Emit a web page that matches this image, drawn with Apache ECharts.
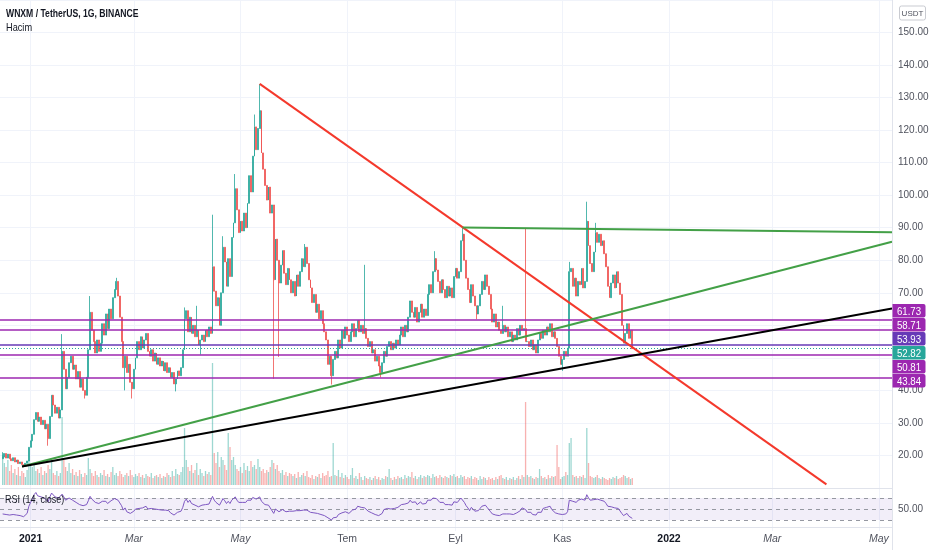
<!DOCTYPE html>
<html><head><meta charset="utf-8">
<script src="https://cdn.jsdelivr.net/npm/echarts@6/dist/echarts.min.js"></script>
<style>html,body{margin:0;padding:0;background:#fff}#c{width:932px;height:550px}</style>
</head><body><div id="c"></div>
<script>
// ---------- DATA ----------
// daily closes from 2020-12-16 (day -16 relative to 2021-01-01) to 2021-12-11
const firstOpen = 19.0;
const closes = [
 19.5,20.6,19.2,20.4,19.0,18.4,19.3,18.0,18.6,17.5,
 18.0,17.2,16.9,17.6,18.3,22.5,24.5,26.5,31.0,33.2,
 30.5,31.8,29.5,30.8,28.2,29.6,25.2,32.0,38.5,35.5,
 33.0,34.8,31.5,34.0,52.0,46.5,40.5,44.0,48.5,50.5,
 46.5,47.8,43.5,45.8,41.0,43.5,40.0,38.5,44.0,52.5,
 64.0,58.5,55.0,51.5,55.5,52.0,54.5,60.5,57.0,63.5,
 59.0,65.0,62.0,68.5,71.0,73.5,69.0,62.5,55.0,47.0,
 50.5,45.5,48.0,42.5,40.5,46.5,50.0,55.0,52.5,56.5,
 53.0,55.5,57.5,52.0,50.5,52.5,49.0,51.5,48.0,50.0,
 47.5,49.0,46.0,48.5,45.5,47.0,44.0,45.5,42.0,43.5,
 46.0,44.5,47.0,52.5,62.0,64.5,58.0,62.5,57.5,60.0,
 56.5,58.5,54.0,55.5,57.0,55.0,58.5,56.5,59.5,57.5,
 78.0,70.5,66.0,68.5,60.0,70.0,84.0,79.5,72.0,80.5,
 75.0,87.0,91.5,102.0,95.5,88.5,92.0,89.0,94.5,90.0,
 97.5,106.0,101.0,112.0,121.0,114.0,120.5,126.0,113.0,108.0,
 103.0,98.5,102.5,94.5,97.0,74.0,86.5,80.0,73.0,78.5,
 83.0,76.0,72.5,77.5,74.0,70.0,73.5,69.0,75.5,72.0,
 76.5,80.5,78.0,84.0,79.0,74.0,71.5,67.0,69.5,64.0,
 66.5,62.0,64.5,60.5,58.0,55.5,48.0,50.5,44.5,49.5,
 52.0,50.0,55.5,53.0,58.5,56.0,59.5,57.0,55.0,58.0,
 60.5,56.5,59.0,61.5,58.0,60.0,57.5,59.0,56.0,53.5,
 55.0,51.5,52.5,49.0,50.5,47.5,45.5,48.5,52.0,50.5,
 53.5,55.0,52.5,54.5,53.0,55.5,54.0,57.0,59.5,56.5,
 60.0,58.0,62.5,67.5,64.0,62.5,65.5,61.0,64.0,66.5,
 62.5,65.0,63.0,69.5,72.5,70.0,76.5,80.5,77.0,73.5,
 70.0,74.0,71.0,68.5,72.0,69.0,71.5,68.5,75.0,77.5,
 74.5,76.5,86.0,88.0,80.0,74.5,71.0,67.0,72.5,69.0,
 66.0,63.5,66.0,69.5,73.5,71.0,75.5,72.0,69.5,65.0,
 61.0,63.5,59.5,61.0,58.5,57.5,60.0,58.0,59.5,56.5,
 58.0,55.0,57.0,55.5,59.0,57.0,60.0,58.5,59.0,55.0,
 55.0,53.5,55.5,52.5,54.0,51.5,55.5,57.5,56.0,58.5,
 57.0,59.5,58.0,60.5,56.5,58.0,56.0,53.5,50.5,48.0,
 49.5,52.0,50.5,53.0,76.5,77.5,72.0,74.5,69.0,73.5,
 72.5,77.5,71.5,73.5,92.0,84.5,79.0,76.5,82.5,88.5,
 85.5,88.0,84.5,86.0,82.0,78.0,72.0,68.5,73.0,75.5,
 71.5,76.5,73.0,69.5,60.0,54.5,57.5,60.5,56.0,58.5,
 52.82
];
// [day, high] and [day, low] for the visible long wicks
const highWicks = [[-16,21],[18,57.3],[34,69],[49,74.6],[88,65.5],[95,66],[104,94],[110,87.4],[117,106.5],[128,124.8],[131,134.2],[157,85],[191,78.6],[231,82.8],[247,90.1],[270,66],[283,89.8],[308,79.5],[318,98],[323,91.5]];
const lowWicks = [[-4,16.6],[10,23],[31,37.5],[54,40],[58,37.5],[83,39.7],[97,51],[139,43.6],[142,50.3],[172,41.8],[200,44],[255,61.9],[304,46]];
const volumes = [
 30,22,18,25,14,20,12,16,10,18,
 9,14,12,8,15,24,20,18,22,14,
 16,12,18,10,14,12,20,16,25,12,
 10,14,9,12,68,25,18,14,22,12,
 16,10,13,9,15,11,8,12,10,27,
 16,12,9,14,10,8,12,10,15,9,
 11,8,13,18,10,12,9,14,11,8,
 10,12,9,15,10,8,11,9,12,8,
 10,7,11,9,8,12,7,9,10,8,
 11,7,9,8,12,10,8,14,9,16,
 11,10,13,18,57,25,18,14,20,12,
 15,22,10,16,12,9,14,11,13,10,
 122,32,22,33,18,28,25,20,15,52,
 38,25,28,20,16,14,18,12,22,15,
 19,14,24,18,20,16,26,18,14,16,
 12,15,13,18,25,22,16,20,14,12,
 15,10,13,9,12,11,9,11,7,13,
 8,10,12,9,14,8,7,10,6,9,
 8,11,7,12,9,10,14,8,9,42,
 10,9,15,8,12,7,10,8,6,10,
 17,7,9,6,12,8,5,9,7,6,
 8,5,7,9,6,8,5,7,6,9,
 8,16,7,5,8,6,9,7,8,6,
 10,7,9,8,13,7,9,6,8,10,
 7,9,8,10,9,7,11,8,9,7,
 10,8,7,9,8,7,10,9,11,8,
 9,7,10,8,9,6,8,7,9,6,
 8,7,5,9,6,8,7,5,8,6,
 7,5,8,6,9,10,7,6,8,5,
 7,6,8,5,7,9,6,10,8,83,
 10,8,9,7,6,8,7,16,9,7,
 8,6,10,7,9,8,9,40,18,6,
 8,9,13,10,42,47,10,8,9,7,
 9,8,10,7,57,22,9,8,7,8,
 10,7,6,8,7,6,5,7,6,8,
 7,9,6,7,8,10,9,7,8,6,
 7
];
const rsiValues = [
 41,43,40,42,39,38,40,38,39,37,
 38,37,36,39,42,55,62,67,76,80,
 74,76,72,74,70,72,63,72,79,76,
 72,74,70,72,77,72,66,68,70,71,
 66,67,62,64,58,60,56,54,58,65,
 73,68,66,62,63,60,62,64,61,64,
 60,63,65,68,69,70,66,61,56,48,
 52,45,48,42,40,46,50,53,51,54,
 52,53,55,50,49,51,48,50,47,49,
 46,48,45,48,46,47,43,44,39,37,
 44,42,46,53,64,68,62,66,60,63,
 57,59,54,55,57,55,58,56,59,57,
 73,66,62,63,57,63,69,65,60,64,
 60,66,68,72,66,62,64,62,65,62,
 66,69,66,71,73,68,70,72,64,61,
 58,55,57,52,54,42,50,47,45,47,
 49,46,45,47,46,44,46,44,47,45,
 47,49,48,51,48,45,44,42,43,41,
 42,41,40,39,38,37,34,35,30,34,
 36,35,40,39,43,42,45,44,42,45,
 48,46,50,55,52,53,51,52,49,46,
 47,43,44,40,42,38,36,42,49,47,
 51,53,50,52,51,54,53,56,58,55,
 59,57,61,66,62,60,63,58,61,63,
 59,62,60,66,68,66,70,72,69,66,
 62,65,62,58,61,58,60,57,63,65,
 62,64,70,71,62,56,52,47,53,50,
 46,44,47,51,55,53,57,53,50,45,
 41,43,39,41,38,37,41,39,41,39,
 41,38,40,39,43,41,47,52,49,49,
 44,42,44,40,42,39,44,46,44,51,
 50,53,51,55,49,50,43,45,41,39,
 40,43,41,45,66,67,64,66,62,66,
 64,68,65,66,76,70,66,64,67,70,
 68,69,66,67,64,60,55,52,54,55,
 52,54,51,49,42,38,40,42,37,39,
 33
];
const levelValues = [61.73, 58.71, 53.93, 50.81, 43.84];
const lastPrice = 52.82;
// trend lines: [day, price] end points
const redLine = [[131, 134.2], [455, 11.1]];
const greenFlatLine = [[247, 90.1], [492.5, 88.6]];
const greenRiseLine = [[-4.9, 16.6], [492.5, 85.7]];
const blackLine = [[-4.9, 16.6], [492.5, 65.2]];
const monthLabels = ['', '', 'Mar', '', 'May', '', 'Tem', '', 'Eyl', '', 'Kas', ''];
const italicMonths = [2, 4];

// ---------- BUILD ----------
const N_CAT = 510;
const AXIS_START = Date.UTC(2020, 11, 15);
const DAY0_INDEX = 17;
const FIRST_DAY = -16;
const categories = [];
for (let i = 0; i < N_CAT; i++) categories.push(new Date(AXIS_START + i * 86400000).toISOString().slice(0, 10));

const UP = '#26a69a', DOWN = '#ef5350';
const UP_C = 'rgba(38,166,154,0.8)', DOWN_C = 'rgba(239,83,80,0.8)';
const candleData = new Array(N_CAT).fill('-');
const volData = new Array(N_CAT).fill('-');
const rsiData = new Array(N_CAT).fill('-');
closes.forEach((c, k) => {
  const d = FIRST_DAY + k;
  const o = k === 0 ? firstOpen : closes[k - 1];
  let hi = Math.max(o, c), lo = Math.min(o, c);
  const hw = highWicks.find(w => w[0] === d); if (hw) hi = Math.max(hi, hw[1]);
  const lw = lowWicks.find(w => w[0] === d); if (lw) lo = Math.min(lo, lw[1]);
  const idx = d + DAY0_INDEX;
  candleData[idx] = [o, c, lo, hi];
  volData[idx] = { value: volumes[k], itemStyle: { color: c >= o ? 'rgba(38,166,154,0.45)' : 'rgba(239,83,80,0.45)' } };
  rsiData[idx] = rsiValues[k];
});

function isMark(val) { const m = +val.slice(5, 7) - 1; return val.slice(8, 10) === '01' && m % 2 === 0; }
function markLabel(val) {
  const m = +val.slice(5, 7) - 1;
  if (m === 0) return '{y|' + val.slice(0, 4) + '}';
  return (italicMonths.indexOf(m) >= 0 ? '{mi|' : '{m|') + monthLabels[m] + '}';
}
const markCats = categories.filter(isMark);
const markDays = markCats.map(c => categories.indexOf(c) - DAY0_INDEX);

const FONT = "'Liberation Sans',Arial,sans-serif";
const GRID_LINE = '#f0f3fa';
const BORDER = '#e0e3eb';
const TXT = '#131722';
const AX_TXT = '#50535e';

const levelColors = ['#9c27b0', '#9c27b0', '#673ab7', '#9c27b0', '#9c27b0'];
const vGrid = { silent: true, z: 0, symbol: ['none', 'none'], label: { show: false }, lineStyle: { color: GRID_LINE, type: 'solid', width: 1 } };

const option = {
  animation: false,
  backgroundColor: '#ffffff',
  textStyle: { fontFamily: FONT },
  grid: [
    { left: 0, right: 40, top: -6, height: 494 },
    { left: 0, right: 40, top: 300, height: 185 },
    { left: 0, right: 40, top: 487, height: 44 }
  ],
  xAxis: [
    { type: 'category', gridIndex: 0, data: categories, axisLine: { show: true, lineStyle: { color: BORDER } }, axisTick: { show: false }, axisLabel: { show: false }, splitLine: { show: false } },
    { type: 'category', gridIndex: 1, data: categories, show: false },
    { type: 'category', gridIndex: 2, data: categories, offset: -4, axisLine: { show: true, lineStyle: { color: BORDER } }, axisTick: { show: false },
      axisLabel: { interval: (i, v) => isMark(v), formatter: v => markLabel(v), margin: 7, fontFamily: FONT,
        rich: { y: { fontWeight: 'bold', fontSize: 10.5, color: TXT, fontFamily: FONT },
                m: { fontSize: 10.5, color: AX_TXT, fontFamily: FONT },
                mi: { fontSize: 10.5, color: AX_TXT, fontStyle: 'italic', fontFamily: FONT } } },
      splitLine: { show: false } },
    { type: 'value', gridIndex: 0, min: -17.5, max: 492.5, show: false }
  ],
  yAxis: [
    { type: 'value', gridIndex: 0, position: 'right', min: 10, max: 160, interval: 10,
      axisLine: { show: false }, axisTick: { show: false },
      axisLabel: { margin: 6, fontSize: 10, color: AX_TXT, fontFamily: FONT,
        formatter: v => (v >= 20 && v <= 150 && v !== 50 && v !== 60) ? v.toFixed(2) : '' },
      splitLine: { show: true, lineStyle: { color: GRID_LINE } } },
    { type: 'value', gridIndex: 1, min: 0, max: 185, show: false },
    { type: 'value', gridIndex: 2, position: 'right', min: 10, max: 90, interval: 40,
      axisLine: { show: false }, axisTick: { show: false }, splitLine: { show: false },
      axisLabel: { margin: 6, fontSize: 10, color: AX_TXT, fontFamily: FONT, formatter: v => v === 50 ? '50.00' : '' } }
  ],
  series: [
    { type: 'line', xAxisIndex: 3, yAxisIndex: 0, data: [], silent: true, z: 0,
      markLine: Object.assign({ data: markDays.map(d => ({ xAxis: d })) }, vGrid) },
    { type: 'line', xAxisIndex: 2, yAxisIndex: 2, data: [], silent: true, z: 0,
      markLine: Object.assign({ data: markCats.map(c => ({ xAxis: c })) }, vGrid) },
    { type: 'bar', xAxisIndex: 1, yAxisIndex: 1, data: volData, barWidth: 1.3, silent: true, z: 1 },
    { type: 'candlestick', xAxisIndex: 0, yAxisIndex: 0, data: candleData, barWidth: 1.4, silent: true, z: 2,
      itemStyle: { color: UP_C, color0: DOWN_C, borderColor: UP_C, borderColor0: DOWN_C, borderWidth: 1 },
      markLine: { silent: true, z: 3, symbol: ['none', 'none'], label: { show: false },
        data: levelValues.map((v, i) => ({ yAxis: v, lineStyle: { color: levelColors[i], width: 1.5, type: 'solid' } }))
          .concat([{ yAxis: lastPrice, lineStyle: { color: UP, width: 1, type: [1, 2] } }]) } },
    { type: 'line', xAxisIndex: 3, yAxisIndex: 0, data: redLine, showSymbol: false, silent: true, z: 4, lineStyle: { color: '#f4392c', width: 2 } },
    { type: 'line', xAxisIndex: 3, yAxisIndex: 0, data: greenFlatLine, showSymbol: false, silent: true, z: 4, lineStyle: { color: '#43a047', width: 2 } },
    { type: 'line', xAxisIndex: 3, yAxisIndex: 0, data: greenRiseLine, showSymbol: false, silent: true, z: 4, lineStyle: { color: '#43a047', width: 2 } },
    { type: 'line', xAxisIndex: 3, yAxisIndex: 0, data: blackLine, showSymbol: false, silent: true, z: 4, lineStyle: { color: '#000000', width: 2 } },
    { type: 'line', xAxisIndex: 2, yAxisIndex: 2, data: rsiData, showSymbol: false, silent: true, z: 3, lineStyle: { color: '#7e57c2', width: 1 },
      markArea: { silent: true, z: 1, itemStyle: { color: 'rgba(126,87,194,0.1)' }, data: [[{ yAxis: 30 }, { yAxis: 70 }]] },
      markLine: { silent: true, z: 2, symbol: ['none', 'none'], label: { show: false }, lineStyle: { color: '#9598a1', type: [4, 4], width: 1 },
        data: [{ yAxis: 70 }, { yAxis: 50 }, { yAxis: 30 }] } }
  ]
};

const chart = echarts.init(document.getElementById('c'), null, { renderer: 'canvas' });
chart.setOption(option);

// price labels on the right axis, stacked so they do not overlap
const labels = levelValues.map((v, i) => ({ v, color: levelColors[i] })).concat([{ v: lastPrice, color: UP }]);
labels.forEach(l => { l.y = chart.convertToPixel({ yAxisIndex: 0 }, l.v); });
labels.sort((a, b) => a.y - b.y);
const H = 14;
for (let it = 0; it < 300; it++) {
  for (let i = 0; i < labels.length - 1; i++) {
    const gap = labels[i + 1].y - labels[i].y;
    if (gap < H) { const s = (H - gap) / 2; labels[i].y -= s; labels[i + 1].y += s; }
  }
}
const axisX = Math.round(chart.convertToPixel({ xAxisIndex: 3 }, 492.5)) + 0.5;
const graphics = [
  { type: 'line', z: 50, shape: { x1: axisX, y1: 0, x2: axisX, y2: 550 }, style: { stroke: BORDER, lineWidth: 1 } },
  { type: 'text', z: 100, x: 6, y: 8, scaleX: 0.75, style: { text: 'WNXM / TetherUS, 1G, BINANCE', fontSize: 11.5, fontWeight: 'bold', fontFamily: FONT, fill: TXT } },
  { type: 'text', z: 100, x: 6, y: 22, scaleX: 0.8, style: { text: 'Hacim', fontSize: 11.5, fontFamily: FONT, fill: TXT } },
  { type: 'text', z: 100, x: 5, y: 494, scaleX: 0.78, style: { text: 'RSI (14, close)', fontSize: 11.5, fontFamily: FONT, fill: TXT } },
  { type: 'rect', z: 100, shape: { x: axisX + 7, y: 6, width: 26, height: 14, r: 2 }, style: { fill: '#fff', stroke: '#c9cbd1', lineWidth: 1 } },
  { type: 'text', z: 101, x: axisX + 20, y: 13.5, style: { text: 'USDT', fontSize: 8, fontFamily: FONT, fill: AX_TXT, align: 'center', verticalAlign: 'middle' } }
];
labels.forEach(l => {
  graphics.push({ type: 'rect', z: 100, shape: { x: axisX, y: l.y - H / 2, width: 33, height: H - 0.5, r: [0, 2, 2, 0] }, style: { fill: l.color } });
  graphics.push({ type: 'text', z: 101, x: axisX + 16.5, y: l.y + 0.5, scaleX: 0.88, style: { text: l.v.toFixed(2), fontSize: 11, fontFamily: FONT, fill: '#fff', align: 'center', verticalAlign: 'middle' } });
});
chart.setOption({ graphic: graphics });
</script>
</body></html>
